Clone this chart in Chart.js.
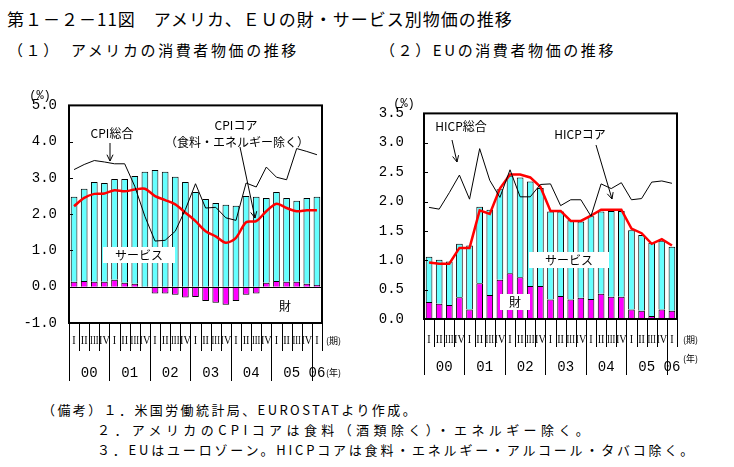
<!DOCTYPE html>
<html><head><meta charset="utf-8">
<script src="https://cdn.jsdelivr.net/npm/chart.js@4.4.0/dist/chart.umd.min.js"></script>
<style>
body{margin:0;background:#fff;width:734px;height:467px;position:relative;overflow:hidden;font-family:"Noto Sans CJK JP";}
.t{position:absolute;white-space:nowrap;color:#000;line-height:1;}
canvas{position:absolute;}
</style></head><body>
<div class="t" style="left:7px;top:10px;font-size:17px;letter-spacing:1px;">第１－２－11図　アメリカ、ＥＵの財・サービス別物価の推移</div>
<div class="t" style="left:8px;top:42px;font-size:15px;letter-spacing:2.6px;">（１）　アメリカの消費者物価の推移</div>
<div class="t" style="left:380px;top:42px;font-size:15px;letter-spacing:2.6px;">（２）EUの消費者物価の推移</div>
<div class="t" style="left:42px;top:403px;font-size:13px;letter-spacing:2.4px;">（備考）１．米国労働統計局、EUROSTATより作成。</div>
<div class="t" style="left:97px;top:423px;font-size:13px;letter-spacing:4.4px;">２．アメリカのCPIコアは食料（酒類除く）・エネルギー除く。</div>
<div class="t" style="left:97px;top:443px;font-size:13px;letter-spacing:2.8px;">３．EUはユーロゾーン。HICPコアは食料・エネルギー・アルコール・タバコ除く。</div>
<canvas id="us" width="365" height="305" style="left:0;top:85px;"></canvas>
<canvas id="eu" width="369" height="300" style="left:365px;top:85px;"></canvas>
<script>
const quarters=["I","II","III","IV","I","II","III","IV","I","II","III","IV","I","II","III","IV","I","II","III","IV","I","II","III","IV","I"];
const years=["00","01","02","03","04","05","06"];
// アメリカ
const usGoods=[0.14,0.16,0.14,0.14,0.19,0.11,0.08,-0.02,-0.19,-0.19,-0.22,-0.30,-0.28,-0.39,-0.44,-0.50,-0.39,-0.22,-0.19,0.11,0.16,0.14,0.14,0.08,0.05];
const usServices=[2.34,2.54,2.75,2.72,2.78,2.86,2.97,3.17,3.22,3.17,3.03,2.89,2.61,2.42,2.31,2.26,2.23,2.50,2.48,2.34,2.45,2.31,2.23,2.37,2.43];
const usCpi=[3.23,3.37,3.48,3.44,3.39,3.39,2.77,1.94,1.26,1.28,1.53,2.13,2.84,2.17,2.19,1.90,1.83,2.86,2.75,3.30,3.02,2.95,3.81,3.73,3.64];
const usCore=[2.22,2.45,2.56,2.57,2.66,2.63,2.68,2.70,2.50,2.39,2.27,2.04,1.81,1.53,1.39,1.21,1.35,1.78,1.81,2.08,2.29,2.17,2.08,2.11,2.11];
// EU
const euGoods=[0.29,0.26,0.24,0.37,0.16,0.61,0.41,0.67,0.78,0.71,0.56,0.56,0.33,0.39,0.33,0.36,0.34,0.43,0.38,0.38,0.16,0.14,0.05,0.16,0.14];
const euServices=[0.77,0.75,0.74,0.91,1.09,1.30,1.45,1.54,1.66,1.70,1.78,1.67,1.50,1.44,1.35,1.30,1.41,1.40,1.46,1.46,1.35,1.29,1.25,1.17,1.09];
const euHicp=[1.90,1.87,2.15,2.45,2.04,2.90,2.36,2.07,2.54,2.08,2.08,2.29,2.30,1.93,2.03,2.03,1.75,2.30,2.22,2.32,2.03,2.05,2.33,2.35,2.31];
const euCore=[0.96,0.94,0.94,1.21,1.21,1.85,1.79,2.22,2.46,2.46,2.41,2.25,1.84,1.84,1.67,1.67,1.76,1.86,1.86,1.86,1.54,1.46,1.28,1.36,1.25];

const JP='"Noto Sans CJK JP"';
const NUM='"Liberation Mono"';

function arrow(ctx,x1,y1,x2,y2){
    ctx.save();
    ctx.strokeStyle="#000";
    ctx.lineWidth=1;
    ctx.beginPath();
    ctx.moveTo(x1,y1);
    ctx.lineTo(x2,y2);
    const a=Math.atan2(y2-y1,x2-x1);
    ctx.moveTo(x2,y2);
    ctx.lineTo(x2-7*Math.cos(a-0.45),y2-7*Math.sin(a-0.45));
    ctx.moveTo(x2,y2);
    ctx.lineTo(x2-7*Math.cos(a+0.45),y2-7*Math.sin(a+0.45));
    ctx.stroke();
    ctx.restore();
}
function label(ctx,text,x,y,size,box){
    ctx.save();
    ctx.font=size+"px "+JP;
    ctx.textAlign="center";
    ctx.textBaseline="middle";
    if(box){
        const w=ctx.measureText(text).width+box*2;
        ctx.fillStyle="#fff";
        ctx.fillRect(x-w/2,y-8,w,16);
    }
    ctx.fillStyle="#000";
    ctx.fillText(text,x,y);
    ctx.restore();
}
// 枠・目盛・期と年の表
function framePlugin(opt){
    return {
        id:"frame",
        afterDraw(chart){
            const ctx=chart.ctx;
            const a=chart.chartArea;
            const x=chart.scales.x;
            const y=chart.scales.y;
            ctx.save();
            ctx.strokeStyle="#000";
            if(opt.zero){
                ctx.lineWidth=1;
                ctx.beginPath();
                ctx.moveTo(a.left,Math.round(y.getPixelForValue(0))+0.5);
                ctx.lineTo(a.right,Math.round(y.getPixelForValue(0))+0.5);
                ctx.stroke();
            }
            ctx.lineWidth=1;
            y.ticks.forEach(t=>{
                const py=Math.round(y.getPixelForValue(t.value))+0.5;
                ctx.beginPath();
                ctx.moveTo(a.left,py);
                ctx.lineTo(a.left+4,py);
                ctx.stroke();
            });
            ctx.lineWidth=2;
            ctx.strokeRect(a.left,a.top,a.right-a.left,a.bottom-a.top);
            const step=x.getPixelForValue(1)-x.getPixelForValue(0);
            ctx.lineWidth=1;
            for(let i=0;i<=quarters.length;i++){
                const px=Math.round(x.getPixelForValue(i)-step/2)+0.5;
                const long=(i%4===0);
                ctx.beginPath();
                ctx.moveTo(px,a.bottom);
                ctx.lineTo(px,a.bottom+(long?opt.rowEnd:opt.row1));
                ctx.stroke();
            }
            ctx.fillStyle="#000";
            ctx.font="12px \"Liberation Serif\"";
            ctx.textAlign="center";
            ctx.textBaseline="middle";
            quarters.forEach((q,i)=>{
                ctx.save();
                const px=x.getPixelForValue(i);
                ctx.translate(px,a.bottom+opt.row1y);
                ctx.scale(q.length>2?0.7:0.85,1);
                ctx.fillText(q,0,0);
                ctx.restore();
            });
            ctx.font="14px "+NUM;
            years.forEach((yr,i)=>{
                let px;
                if(i<6){
                    px=(x.getPixelForValue(i*4)+x.getPixelForValue(i*4+3))/2;
                }else{
                    px=x.getPixelForValue(24);
                }
                ctx.fillText(yr,px,a.bottom+opt.row2y);
            });
            ctx.font="9px "+JP;
            ctx.textAlign="left";
            ctx.fillText("(期)",a.right+opt.unitX,a.bottom+opt.row1y);
            ctx.fillText("(年)",a.right+opt.unitX,a.bottom+opt.unitY2);
            ctx.font="12px "+NUM;
            ctx.textAlign="center";
            ctx.fillText("(%)",opt.pctX,a.top-10);
            ctx.restore();
            opt.notes(ctx,chart);
        }
    };
}
function makeChart(id,goods,services,total,core,o){
    return new Chart(document.getElementById(id),{
        type:"bar",
        data:{
            labels:quarters,
            datasets:[
                {type:"line",data:total,borderColor:"#000",borderWidth:1,pointRadius:0,tension:0,stack:"total",order:0},
                {type:"line",data:core,borderColor:"#ff0000",borderWidth:2.5,pointRadius:0,tension:o.tension,stack:"core",order:0},
                {data:goods,backgroundColor:"#ff00ff",borderColor:"#000",borderWidth:1,stack:"s",order:1},
                {data:services,backgroundColor:"#66ffff",borderColor:"#000",borderWidth:1,stack:"s",order:1}
            ]
        },
        options:{
            responsive:false,
            animation:false,
            layout:{padding:o.padding},
            plugins:{legend:{display:false},tooltip:{enabled:false}},
            datasets:{bar:{barPercentage:0.66,categoryPercentage:1}},
            scales:{
                x:{display:false,stacked:true},
                y:{
                    stacked:true,
                    min:o.min,max:o.max,
                    grid:{display:false,drawTicks:false},
                    border:{display:false},
                    ticks:{stepSize:o.step,padding:o.tickPad,color:"#000",font:{family:"Liberation Mono",size:14},callback:v=>v.toFixed(1)},
                    afterFit(s){s.width=o.yWidth;}
                }
            }
        },
        plugins:[framePlugin(o)]
    });
}
makeChart("us",usGoods,usServices,usCpi,usCore,{
    tension:0.3,min:-1,max:5,step:1,tickPad:12,yWidth:69,
    padding:{top:20,right:43,bottom:67,left:0},
    zero:true,row1:28,rowEnd:58,row1y:18,row2y:50,unitX:4,unitY2:50,pctX:40,
    notes(ctx){
        label(ctx,"CPI総合",112,48,12);
        arrow(ctx,110,58,110,76);
        label(ctx,"CPIコア",236,40,12);
        label(ctx,"（食料・エネルギー除く）",237,57,12);
        arrow(ctx,240,62,255,133);
        label(ctx,"サービス",139,170,12,12);
        label(ctx,"財",285,221,12);
    }
});
makeChart("eu",euGoods,euServices,euHicp,euCore,{
    tension:0,min:0,max:3.5,step:0.5,tickPad:20,yWidth:59,
    padding:{top:24,right:57,bottom:66,left:0},
    zero:false,row1:28,rowEnd:56,row1y:21,row2y:48,unitX:6,unitY2:40,pctX:39,
    notes(ctx){
        label(ctx,"HICP総合",96,41,12);
        arrow(ctx,87,55,92,77);
        label(ctx,"HICPコア",215,49,12);
        arrow(ctx,231,60,247,114);
        label(ctx,"サービス",204,175,12,16);
        label(ctx,"財",150,217,12,9);
    }
});
</script>
</body></html>
